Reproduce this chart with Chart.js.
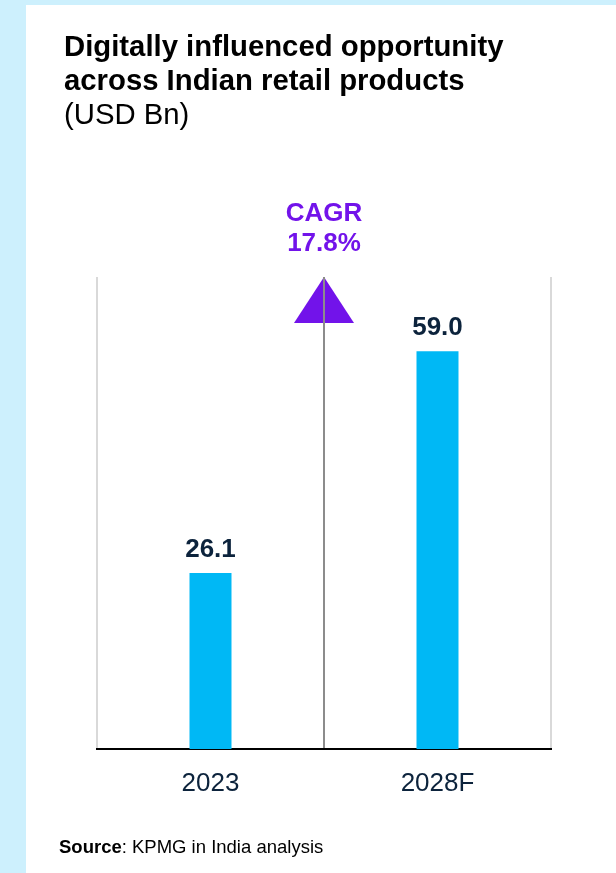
<!DOCTYPE html>
<html>
<head>
<meta charset="utf-8">
<script src="https://cdn.jsdelivr.net/npm/chart.js@4.4.1/dist/chart.umd.min.js"></script>
<style>
  html, body { margin: 0; padding: 0; background: #cdf0fd; }
  canvas { display: block; }
</style>
</head>
<body>
<canvas id="chart" width="616" height="873"></canvas>
<script>
// Données du graphique
const categories = ['2023', '2028F'];
const values = [26.1, 59.0];
const valueLabels = ['26.1', '59.0'];
const titleLines = ['Digitally influenced opportunity', 'across Indian retail products'];
const unitLabel = '(USD Bn)';
const cagrLines = ['CAGR', '17.8%'];

const FONT = '"Liberation Sans", Arial, sans-serif';
const NAVY = '#0c233c';
const PURPLE = '#7213ea';

// Plugin pour le fond, le titre, la source et le triangle CAGR
const decorPlugin = {
    id: 'decor',
    beforeDraw(chart) {
        const ctx = chart.ctx;
        ctx.save();
        ctx.fillStyle = '#cdf0fd';
        ctx.fillRect(0, 0, chart.width, chart.height);
        ctx.fillStyle = '#ffffff';
        ctx.fillRect(26, 5, chart.width - 26, chart.height - 5);

        // Titre
        ctx.fillStyle = '#000000';
        ctx.textBaseline = 'alphabetic';
        ctx.textAlign = 'left';
        ctx.font = 'bold 29.3px ' + FONT;
        ctx.fillText(titleLines[0], 64, 56);
        ctx.fillText(titleLines[1], 64, 90);
        ctx.font = '29.3px ' + FONT;
        ctx.fillText(unitLabel, 64, 124);

        // Source
        ctx.font = 'bold 18.5px ' + FONT;
        ctx.fillText('Source', 59, 853);
        const w = ctx.measureText('Source').width;
        ctx.font = '18.5px ' + FONT;
        ctx.fillText(': KPMG in India analysis', 59 + w, 853);
        ctx.restore();
    },
    afterDatasetsDraw(chart) {
        const ctx = chart.ctx;
        const area = chart.chartArea;
        const xScale = chart.scales.x;
        const midX = (xScale.getPixelForValue(0) + xScale.getPixelForValue(1)) / 2;
        ctx.save();

        // Triangle CAGR
        ctx.fillStyle = PURPLE;
        ctx.beginPath();
        ctx.moveTo(midX, area.top);
        ctx.lineTo(midX + 30, area.top + 46);
        ctx.lineTo(midX - 30, area.top + 46);
        ctx.closePath();
        ctx.fill();

        // Ligne centrale par-dessus le triangle
        ctx.strokeStyle = '#8c8c8c';
        ctx.lineWidth = 2;
        ctx.beginPath();
        ctx.moveTo(midX, area.top);
        ctx.lineTo(midX, area.top + 50);
        ctx.stroke();

        // Texte CAGR
        ctx.fillStyle = PURPLE;
        ctx.font = 'bold 26px ' + FONT;
        ctx.textAlign = 'center';
        ctx.textBaseline = 'middle';
        ctx.fillText(cagrLines[0], midX, area.top - 63);
        ctx.fillText(cagrLines[1], midX, area.top - 33);

        // Valeurs au-dessus des barres
        ctx.fillStyle = NAVY;
        const meta = chart.getDatasetMeta(0);
        meta.data.forEach((bar, i) => {
            ctx.fillText(valueLabels[i], bar.x, bar.y - 23);
        });
        ctx.restore();
    }
};

const ctx = document.getElementById('chart').getContext('2d');
const chart = new Chart(ctx, {
    type: 'bar',
    data: {
        labels: categories,
        datasets: [{
            data: values,
            backgroundColor: '#00b8f5',
            borderWidth: 0,
            categoryPercentage: 1,
            barPercentage: 0.185
        }]
    },
    options: {
        responsive: false,
        animation: false,
        devicePixelRatio: 1,
        layout: {
            padding: { left: 97, right: 65, top: 277, bottom: 64 }
        },
        plugins: {
            legend: { display: false },
            tooltip: { enabled: false }
        },
        scales: {
            x: {
                offset: true,
                afterFit(scale) { scale.height = 60; },
                grid: {
                    offset: true,
                    drawTicks: false,
                    lineWidth: 2,
                    color: (c) => c.index === 1 ? '#8c8c8c' : '#d9d9d9'
                },
                border: { display: true, color: '#000000', width: 2 },
                ticks: {
                    padding: 19,
                    color: NAVY,
                    font: { family: FONT, size: 26 }
                }
            },
            y: {
                display: false,
                min: 0,
                max: 70
            }
        }
    },
    plugins: [decorPlugin]
});
</script>
</body>
</html>
